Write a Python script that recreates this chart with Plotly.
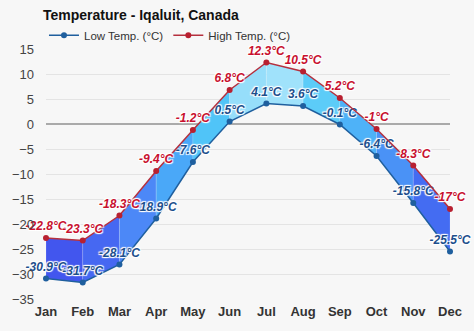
import plotly.graph_objects as go

months = ["Jan", "Feb", "Mar", "Apr", "May", "Jun", "Jul", "Aug", "Sep", "Oct", "Nov", "Dec"]
low_temp = [-30.9, -31.7, -28.1, -18.9, -7.6, 0.5, 4.1, 3.6, -0.1, -6.4, -15.8, -25.5]
high_temp = [-22.8, -23.3, -18.3, -9.4, -1.2, 6.8, 12.3, 10.5, 5.2, -1.0, -8.3, -17.0]
y_ticks = [-35, -30, -25, -20, -15, -10, -5, 0, 5, 10, 15]

segment_colors = [
    "rgb(66,86,238)", "rgb(70,104,242)", "rgb(76,136,247)", "rgb(74,168,248)",
    "rgb(80,196,248)", "rgb(150,222,250)", "rgb(160,226,251)", "rgb(92,204,248)",
    "rgb(78,178,248)", "rgb(74,146,246)", "rgb(68,108,242)",
]

FONT = "Liberation Sans, Arial, sans-serif"
xs = list(range(len(months)))

fig = go.Figure()

# per-segment fills between low and high
for i in range(len(months) - 1):
    px = [xs[i], xs[i + 1], xs[i + 1], xs[i], xs[i]]
    py = [low_temp[i], low_temp[i + 1], high_temp[i + 1], high_temp[i], low_temp[i]]
    fig.add_trace(go.Scatter(
        x=px, y=py, fill="toself", fillcolor=segment_colors[i],
        mode="lines", line=dict(width=0.6, color="rgba(255,255,255,0.25)"),
        hoverinfo="skip", showlegend=False,
    ))

halo = "1px 1px 1px #fff, -1px -1px 1px #fff, 1px -1px 1px #fff, -1px 1px 1px #fff"

fig.add_trace(go.Scatter(
    x=xs, y=low_temp, name="Low Temp. (°C)",
    mode="lines+markers+text",
    line=dict(color="#1f5f9e", width=1.5),
    marker=dict(color="#1f5f9e", size=6),
    text=[f"{v:g}°C" for v in low_temp],
    textposition="top center",
    textfont=dict(family=FONT, size=12, color="#1d4f8c", weight="bold", style="italic", shadow=halo),
    cliponaxis=False,
))
fig.add_trace(go.Scatter(
    x=xs, y=high_temp, name="High Temp. (°C)",
    mode="lines+markers+text",
    line=dict(color="#b5303e", width=1.5),
    marker=dict(color="#b82030", size=6),
    text=[f"{v:g}°C" for v in high_temp],
    textposition="top center",
    textfont=dict(family=FONT, size=12, color="#c8102e", weight="bold", style="italic", shadow=halo),
    cliponaxis=False,
))

fig.update_layout(
    width=474, height=331,
    margin=dict(l=43, r=24, t=49, b=27),
    paper_bgcolor="#f7f7f7", plot_bgcolor="#f7f7f7",
    font=dict(family=FONT, color="#333"),
    title=dict(text="<b>Temperature - Iqaluit, Canada</b>", x=43 / 474, xanchor="left",
               y=1 - 15 / 331, yanchor="middle", font=dict(size=14, color="#111")),
    legend=dict(orientation="h", x=-0.005, xanchor="left", y=1 + 14 / 255, yanchor="middle",
                font=dict(size=11.5, color="#333"), bgcolor="rgba(0,0,0,0)",
                itemwidth=30, tracegroupgap=0),
    showlegend=True,
    xaxis=dict(range=[0, 11], tickvals=xs, ticktext=[f"<b>{m}</b>" for m in months],
               showgrid=False, zeroline=False, showline=False, ticks="",
               tickfont=dict(size=13, color="#333"), ticklabelstandoff=3, fixedrange=True),
    yaxis=dict(range=[-35, 15], tickvals=y_ticks, showgrid=True, gridcolor="#e4e4e4",
               gridwidth=1, zeroline=True, zerolinecolor="#aaaaaa", zerolinewidth=2,
               ticks="", tickfont=dict(size=13, color="#444"), ticklabelstandoff=11,
               fixedrange=True),
)

fig.write_html("out.html")
